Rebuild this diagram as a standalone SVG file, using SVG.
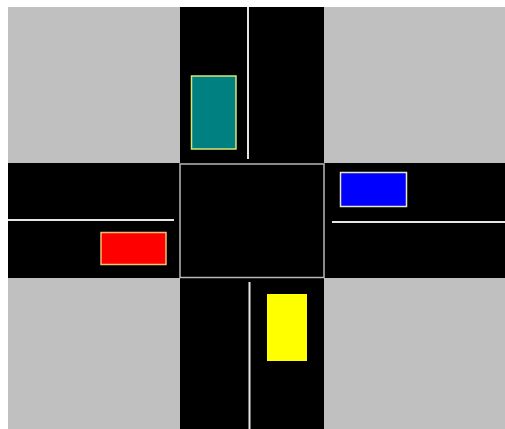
<svg xmlns="http://www.w3.org/2000/svg" width="505" height="429" viewBox="0 0 505 429">
<style>
.grass{fill:#c0c0c0}
.edge{stroke:#b8b8b8;stroke-width:1.5;fill:none}
.lane{stroke:#e6e6e6;stroke-width:2;fill:none}
.car{stroke-width:1.5}
</style>
<rect x="0" y="0" width="505" height="429" fill="#ffffff"/>
<rect x="8" y="7" width="497" height="422" fill="#000000"/>
<g id="blocks">
<rect class="grass" x="8" y="7" width="172" height="156"/>
<rect class="grass" x="324" y="7" width="181" height="156"/>
<rect class="grass" x="8" y="278" width="172" height="151"/>
<rect class="grass" x="324" y="278" width="181" height="151"/>
</g>
<g id="intersection">
<rect class="edge" x="180" y="164" width="144" height="113.5"/>
</g>
<g id="lanes">
<line class="lane" x1="248" y1="7" x2="248" y2="159"/>
<line class="lane" x1="249.5" y1="282" x2="249.5" y2="429"/>
<line class="lane" x1="8" y1="220" x2="174" y2="220"/>
<line class="lane" x1="332" y1="222" x2="505" y2="222"/>
</g>
<g id="car-teal"><rect class="car" x="191.5" y="76" width="44.5" height="73" fill="#008080" stroke="#d8e870"/></g>
<g id="car-red"><rect class="car" x="101" y="232.5" width="65" height="32" fill="#ff0000" stroke="#f2c070"/></g>
<g id="car-blue"><rect class="car" x="340.5" y="172.5" width="66" height="34" fill="#0000ff" stroke="#e8e8c8"/></g>
<g id="car-yellow"><rect x="267" y="294" width="40" height="67" fill="#ffff00"/></g>
</svg>
